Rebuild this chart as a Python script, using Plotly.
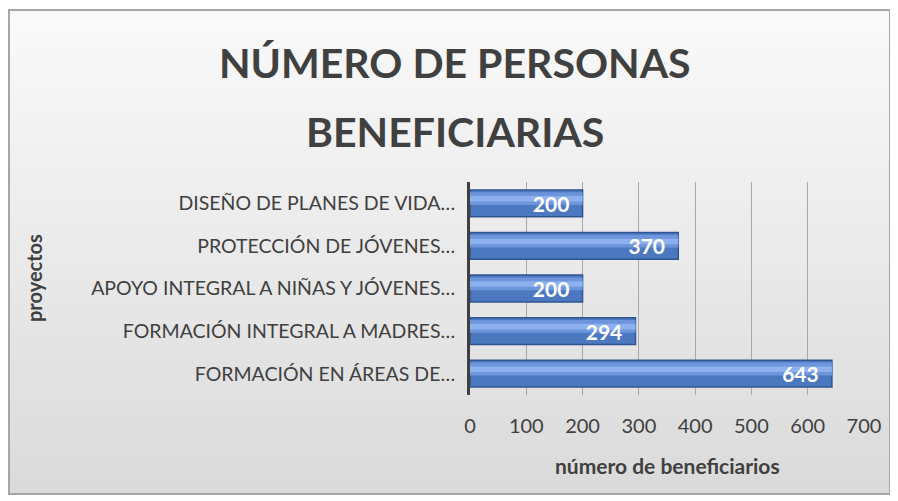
import plotly.graph_objects as go

categories = [
    "FORMACIÓN EN ÁREAS DE…",
    "FORMACIÓN INTEGRAL A MADRES…",
    "APOYO INTEGRAL A NIÑAS Y JÓVENES…",
    "PROTECCIÓN DE JÓVENES…",
    "DISEÑO DE PLANES DE VIDA…",
]
values = [643, 294, 200, 370, 200]
tick_vals = [0, 100, 200, 300, 400, 500, 600, 700]

# page has an 8px body margin; figure is sized so that it fills the 898x501 window
OFF = 8
W, H = 898 - OFF, 501 - OFF
L, R, T, B = 470 - OFF, 34, 182 - OFF, 106
pw = W - L - R
ph = H - T - B


def px_x(x):  # reference-screenshot x -> paper coord
    return (x - OFF - L) / pw


def px_y(y):  # reference-screenshot y -> paper coord
    return (H - B - (y - OFF)) / ph


FONT = "Lato, Carlito, Calibri, sans-serif"
TXT = "#404040"
BAR_W = 0.63
PAD = "\u00a0\u00a0"

fig = go.Figure()
# base bar
fig.add_trace(go.Bar(
    y=categories, x=values, orientation="h",
    marker=dict(color="#4C78C0", line=dict(color="#2F5590", width=1.5)),
    width=BAR_W, hoverinfo="skip",
))
# glossy highlight bands (same values, thinner, upper part of bar)
fig.add_trace(go.Bar(
    y=categories, x=values, orientation="h",
    marker=dict(color="#6D95DC", line=dict(width=0)),
    width=0.30, offset=-0.04, hoverinfo="skip",
))
fig.add_trace(go.Bar(
    y=categories, x=values, orientation="h",
    marker=dict(color="#8DB1EE", line=dict(width=0)),
    width=0.13, offset=0.04, hoverinfo="skip",
))
# labels
fig.add_trace(go.Bar(
    y=categories, x=values, orientation="h",
    marker=dict(color="rgba(0,0,0,0)", line=dict(width=0)),
    width=BAR_W,
    text=[str(v) + PAD for v in values],
    textposition="inside", insidetextanchor="end", constraintext="none",
    textfont=dict(family=FONT, size=21, color="white", weight="bold"),
))

shapes = []
# background gradient (top light -> bottom grey), drawn as thin strips
n = 40
top_y, bot_y = 10, 494
c_top, c_bot = 250, 218
for i in range(n):
    y0 = top_y + (bot_y - top_y) * i / n
    y1 = top_y + (bot_y - top_y) * (i + 1) / n + 0.5
    c = int(round(c_top + (c_bot - c_top) * (i + 0.5) / n))
    shapes.append(dict(type="rect", xref="paper", yref="paper",
                       x0=px_x(9), x1=px_x(890), y0=px_y(y1), y1=px_y(y0),
                       fillcolor=f"rgb({c},{c},{c})", line=dict(width=0), layer="below"))
# frame
shapes.append(dict(type="rect", xref="paper", yref="paper",
                   x0=px_x(9), x1=px_x(890), y0=px_y(494), y1=px_y(10),
                   fillcolor="rgba(0,0,0,0)", line=dict(color="#a6a6a6", width=2), layer="below"))

annotations = [
    dict(text="<b>NÚMERO DE PERSONAS</b>", xref="paper", yref="paper",
         x=px_x(455), y=px_y(62), xanchor="center", yanchor="middle",
         showarrow=False, font=dict(family=FONT, size=41, color=TXT)),
    dict(text="<b>BENEFICIARIAS</b>", xref="paper", yref="paper",
         x=px_x(455), y=px_y(131), xanchor="center", yanchor="middle",
         showarrow=False, font=dict(family=FONT, size=41, color=TXT)),
    dict(text="<b>proyectos</b>", xref="paper", yref="paper",
         x=px_x(34), y=px_y(278), xanchor="center", yanchor="middle",
         textangle=-90, showarrow=False, font=dict(family=FONT, size=20, color=TXT)),
    dict(text="<b>número de beneficiarios</b>", xref="paper", yref="paper",
         x=px_x(667), y=px_y(465), xanchor="center", yanchor="middle",
         showarrow=False, font=dict(family=FONT, size=21, color=TXT)),
]

fig.update_layout(
    width=W, height=H,
    margin=dict(l=L, r=R, t=T, b=B),
    paper_bgcolor="white",
    plot_bgcolor="rgba(0,0,0,0)",
    showlegend=False,
    barmode="overlay",
    shapes=shapes,
    annotations=annotations,
    xaxis=dict(range=[0, 700], tickvals=tick_vals, ticktext=[str(v) for v in tick_vals],
               showgrid=True, gridcolor="#a8a8a8", gridwidth=1,
               zeroline=False, showline=False, ticks="",
               tickfont=dict(family=FONT, size=20, color=TXT), ticklabelstandoff=17),
    yaxis=dict(showline=True, linecolor="#404040", linewidth=3,
               ticks="", showgrid=False,
               tickfont=dict(family=FONT, size=19.5, color=TXT), ticklabelstandoff=8),
)

fig.write_html("out.html")
